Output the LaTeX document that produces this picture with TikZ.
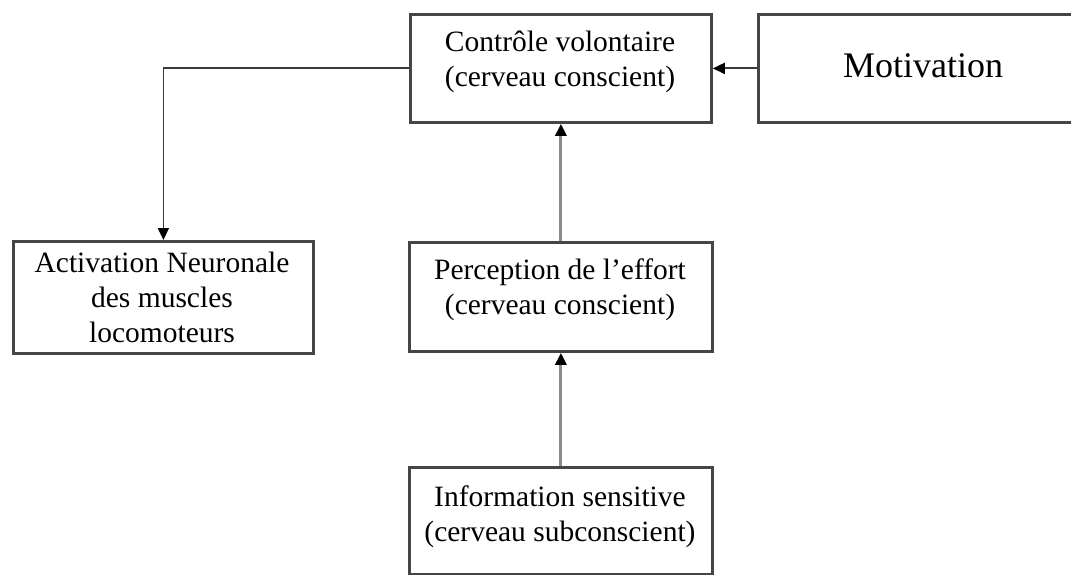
\documentclass[tikz,border=0pt]{standalone}
\usepackage{fontspec}
\setmainfont{Liberation Serif}
\usetikzlibrary{arrows.meta}
\definecolor{boxgray}{HTML}{454545}
\definecolor{linegray}{HTML}{8C8C8C}
\definecolor{darkline}{HTML}{3A3A3A}
\begin{document}
\begin{tikzpicture}[x=1pt,y=-1pt,
  box/.style={draw=boxgray, line width=2.8pt, fill=white, anchor=north west, inner sep=0pt},
  lbl/.style={align=center, font=\fontsize{29.5}{35}\selectfont, inner sep=0pt},
  biglbl/.style={align=center, font=\fontsize{36}{40}\selectfont, inner sep=0pt},
  tip/.style={-{Triangle[length=12pt,width=11pt,color=black]}},
  thinconn/.style={tip, draw=darkline, line width=1.8pt},
  grayconn/.style={tip, draw=linegray, line width=3pt}]
\useasboundingbox (0,0) rectangle (1071,575);
\fill[white] (0,0) rectangle (1071,575);
% boxes
\node[box, minimum width=301pt, minimum height=108pt] (ctrl) at (409,13) {};
\node[box, minimum width=318pt, minimum height=108pt] (mot) at (757,13) {};
\node[box, minimum width=300pt, minimum height=112pt] (act) at (12,240) {};
\node[box, minimum width=303pt, minimum height=109pt] (perc) at (408,241) {};
\node[box, minimum width=303pt, minimum height=107pt] (info) at (408,466) {};
% labels
\node[lbl] (ctrlT) at (560,62) {Contrôle volontaire\\(cerveau conscient)};
\node[biglbl] (motT) at (923,66) {Motivation};
\node[lbl] (actT) at (162,297) {Activation Neuronale\\des muscles\\locomoteurs};
\node[lbl] (percT) at (560,290) {Perception de l’effort\\(cerveau conscient)};
\node[lbl] (infoT) at (560,517) {Information sensitive\\(cerveau subconscient)};
% connectors
\draw[thinconn] (ctrl.west) -| (act.north);
\draw[thinconn] (mot.west) -- (ctrl.east);
\draw[grayconn] (perc.north) -- (ctrl.south);
\draw[grayconn] (info.north) -- (perc.south);
\end{tikzpicture}
\end{document}
